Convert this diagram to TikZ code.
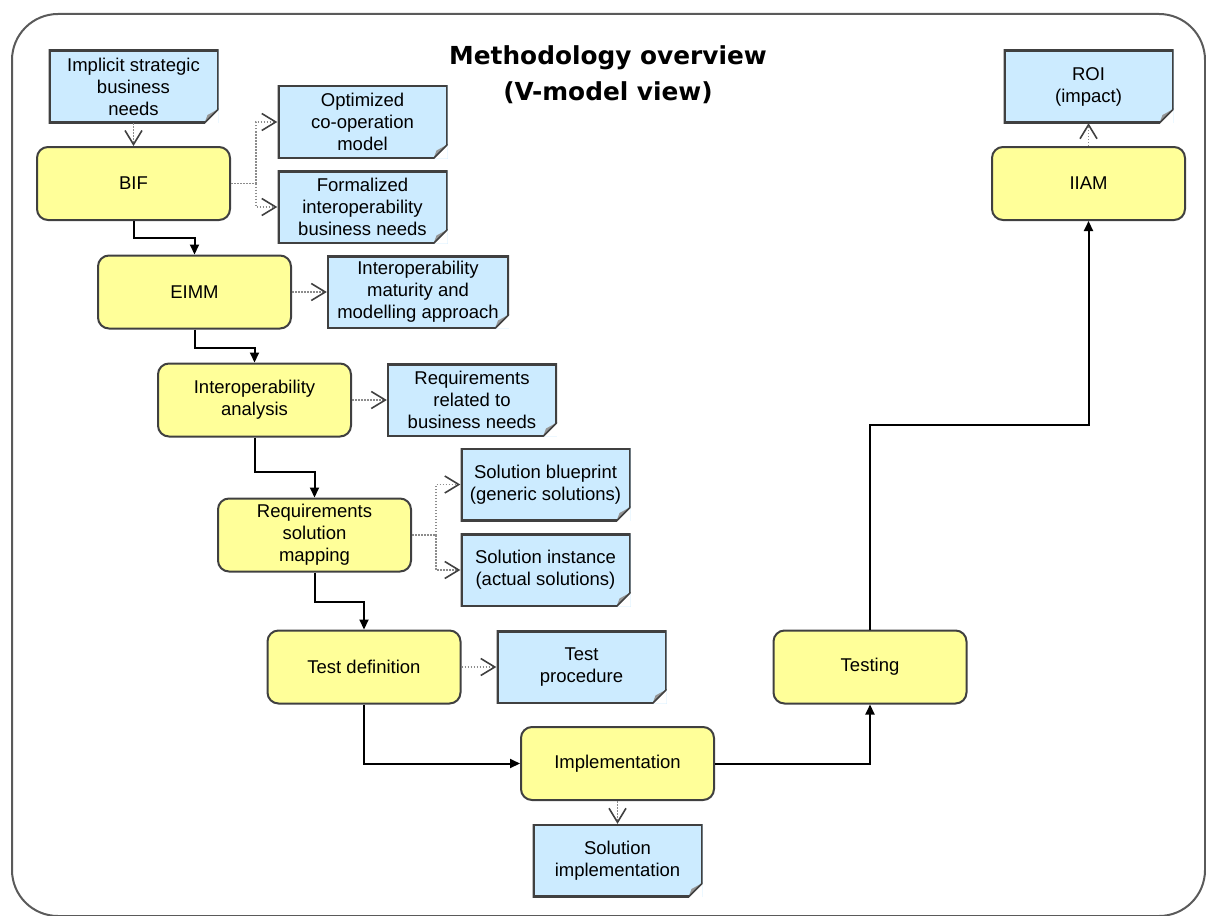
\documentclass[tikz,border=0pt]{standalone}
\usepackage{fontspec}
\setmainfont{Liberation Sans}
\newfontfamily\headfont{DejaVu Sans}
\usetikzlibrary{calc,arrows.meta}
\definecolor{procyellow}{RGB}{255,255,153}
\definecolor{docblue}{RGB}{204,235,255}
\definecolor{edgegray}{RGB}{64,64,64}
\definecolor{foldgray}{RGB}{150,150,150}
\definecolor{dotgray}{RGB}{140,140,140}
\definecolor{framegray}{RGB}{90,90,90}

\begin{document}
\begin{tikzpicture}[x=1pt,y=-1pt,
    font=\fontsize{18.5}{22}\selectfont,
    proc/.style={fill=procyellow, draw=edgegray, line width=2pt, rounded corners=11pt,
      minimum width=193pt, minimum height=73pt, align=center},
    doc/.style={fill=docblue, minimum width=170pt, minimum height=73pt, inner sep=2pt, align=center,
      path picture={
        \coordinate (se) at (path picture bounding box.south east);
        \coordinate (ne) at (path picture bounding box.north east);
        \coordinate (nw) at (path picture bounding box.north west);
        \coordinate (sw) at (path picture bounding box.south west);
        \fill[white] ([xshift=-14pt]se) -- (se) -- ([yshift=14pt]se) -- cycle;
        \fill[foldgray] ([xshift=-14pt]se) -- ([yshift=14pt]se) -- ([xshift=-11pt,yshift=8pt]se) -- cycle;
        \draw[edgegray, line width=4pt] ([xshift=-14pt]se) -- (sw) -- (nw) -- (ne) -- ([yshift=14pt]se);
        \draw[edgegray, line width=1.5pt] ([xshift=-14pt]se) -- ([yshift=14pt]se);
      }},
    flow/.style={draw=black, line width=2pt, -{Triangle[length=10pt,width=9pt]}},
    dotline/.style={draw=dotgray, line width=1.5pt, dash pattern=on 1.5pt off 1.5pt},
    outflow/.style={dotline, -{Straight Barb[length=14pt,width=17pt,line width=1.6pt,color=edgegray]}}]
      \useasboundingbox (0,0) rectangle (1206,915);
      \draw[framegray, line width=2pt, rounded corners=46pt] (12,14) rectangle (1205,916);
      \node (title) at (608,75) [font=\headfont\bfseries\fontsize{24.8}{36}\selectfont, align=center]
        {Methodology overview\\(V-model view)};

      \node (bif) at (133.5,183.5) [proc] {BIF};
      \node (eimm) at (194.5,292) [proc] {EIMM};
      \node (ia) at (254.5,400) [proc] {Interoperability\\analysis};
      \node (rsm) at (314.5,535) [proc] {Requirements\\solution\\mapping};
      \node (td) at (364,667) [proc] {Test definition};
      \node (impl) at (617.5,763.5) [proc] {Implementation};
      \node (testing) at (870,667) [proc] {Testing};
      \node (iiam) at (1088.5,183.5) [proc] {IIAM};

      \node (need) at (133.5,86.5) [doc] {Implicit strategic\\business\\needs};
      \node (optmodel) at (362.5,122) [doc] {Optimized\\co-operation\\model};
      \node (formneeds) at (362.5,207) [doc] {Formalized\\interoperability\\business needs};
      \node (maturity) at (418,292) [doc, minimum width=182pt] {Interoperability\\maturity and\\modelling approach};
      \node (reqs) at (472,400) [doc] {Requirements\\related to\\business needs};
      \node (blueprint) at (545.5,484.5) [doc] {Solution blueprint\\(generic solutions)};
      \node (instance) at (545.5,570) [doc] {Solution instance\\(actual solutions)};
      \node (testproc) at (581.5,667) [doc] {Test\\procedure};
      \node (solimpl) at (617.5,860.5) [doc] {Solution\\implementation};
      \node (roi) at (1088.5,86.5) [doc] {ROI\\(impact)};

      \draw[flow] (bif.south) -- ++(0,17) -| (eimm.north);
      \draw[flow] (eimm.south) -- ++(0,18) -| (ia.north);
      \draw[flow] (ia.south) -- ++(0,34) -| (rsm.north);
      \draw[flow] (rsm.south) -- ++(0,29) -| (td.north);
      \draw[flow] (td.south) |- (impl.west);
      \draw[flow] (impl.east) -| (testing.south);
      \draw[flow] (testing.north) -- ++(0,-205) -| (iiam.south);

      \coordinate (bifsplit) at ($(bif.east)+(25,0)$);
      \coordinate (rsmsplit) at ($(rsm.east)+(24,0)$);
      \draw[outflow] (need.south) -- (bif.north);
      \draw[dotline] (bif.east) -- (bifsplit);
      \draw[outflow] (bifsplit) |- (optmodel.west);
      \draw[outflow] (bifsplit) |- (formneeds.west);
      \draw[outflow] (eimm.east) -- (maturity.west);
      \draw[outflow] (ia.east) -- (reqs.west);
      \draw[dotline] (rsm.east) -- (rsmsplit);
      \draw[outflow] (rsmsplit) |- (blueprint.west);
      \draw[outflow] (rsmsplit) |- (instance.west);
      \draw[outflow] (td.east) -- (testproc.west);
      \draw[outflow] (impl.south) -- (solimpl.north);
      \draw[outflow] (iiam.north) -- (roi.south);
    \end{tikzpicture}
\end{document}
